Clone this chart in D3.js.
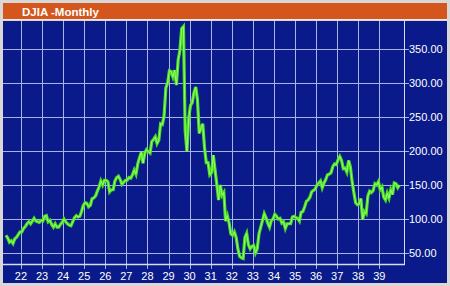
<!DOCTYPE html>
<html>
<head>
<meta charset="utf-8">
<script src="https://cdn.jsdelivr.net/npm/d3@7"></script>
<style>
  html, body { margin: 0; padding: 0; background: #d8d8d8; }
  svg { display: block; font-family: "Liberation Sans", Arial, sans-serif; }
</style>
</head>
<body>
<div id="chart"></div>
<script>
// DJIA monthly values, Apr 1921 .. Dec 1939
var title = 'DJIA -Monthly';
var startYear = 1921, startMonth = 4;
var values = [
  76, 72, 66, 68, 64, 71, 73, 77, 81,                       // 1921 (Apr-Dec)
  81, 86, 89, 93, 96, 93, 97, 101, 97, 96, 95, 98,          // 1922
  97, 104, 105, 96, 98, 92, 88, 93, 88, 88, 92, 95,         // 1923
  100, 96, 93, 91, 90, 96, 102, 105, 103, 104, 111, 120,    // 1924
  124, 123, 118, 120, 130, 131, 134, 141, 147, 156, 150, 157, // 1925
  157, 155, 140, 143, 143, 156, 161, 163, 158, 151, 154, 157, // 1926
  157, 161, 160, 165, 172, 166, 181, 190, 198, 182, 197, 202, // 1927
  199, 197, 214, 217, 221, 211, 216, 240, 239, 252, 293, 300, // 1928
  318, 317, 309, 319, 297, 334, 348, 380, 383, 230, 199, 248, // 1929
  267, 271, 286, 294, 275, 226, 234, 240, 205, 183, 183, 165, // 1930
  168, 194, 172, 151, 128, 150, 135, 139, 97, 105, 94, 78,  // 1931
  76, 81, 73, 56, 45, 43, 42, 73, 79, 62, 56, 60,           // 1932
  61, 50, 56, 78, 88, 98, 108, 102, 94, 88, 98, 100,        // 1933
  107, 104, 100, 101, 94, 96, 86, 93, 93, 93, 103, 104,     // 1934
  102, 101, 97, 110, 111, 118, 126, 128, 132, 140, 142, 144, // 1935
  150, 153, 156, 146, 153, 158, 165, 166, 168, 177, 181, 180, // 1936
  187, 192, 186, 174, 175, 169, 186, 177, 155, 139, 124, 121, // 1937
  122, 130, 99, 111, 108, 134, 141, 139, 142, 152, 150, 155, // 1938
  143, 147, 132, 128, 138, 131, 143, 136, 153, 152, 146, 150  // 1939
];
var xTicks = d3.range(1922, 1940);
var yTicks = [50, 100, 150, 200, 250, 300, 350];

var width = 450, height = 286;
var colors = {frame: '#d8d8d8', title: '#d4561c', bg: '#0a1a8a', grid: '#aab4e4', axis: '#d6dcf6',
              line: '#46dc22', lineHi: '#a4ff70', text: '#ffffff'};

var data = values.map(function (v, i) {
  var m = startMonth - 1 + i;
  return {t: startYear + Math.floor(m / 12) + ((m % 12) + 0.5) / 12, v: v};
});

var plot = {left: 3, right: 404, top: 21, bottom: 264};

var x = d3.scaleLinear().domain([1921.15, 1940.17]).range([plot.left, plot.right]);
var y = d3.scaleLinear().domain([50, 350]).range([253, 49]);

var svg = d3.select('#chart').append('svg')
  .attr('width', width).attr('height', height);

// outer frame + panels
svg.append('rect').attr('width', width).attr('height', height).attr('fill', colors.frame);
svg.append('rect').attr('x', 3).attr('y', 21).attr('width', 444).attr('height', 262).attr('fill', colors.bg);
svg.append('rect').attr('x', 3).attr('y', 3).attr('width', 444).attr('height', 16).attr('fill', colors.title);
svg.append('line').attr('x1', 3).attr('x2', 447).attr('y1', 19.5).attr('y2', 19.5)
  .attr('stroke', '#f4e8e0').attr('stroke-width', 1);

svg.append('text').attr('x', 22).attr('y', 15.5)
  .attr('fill', colors.text).attr('font-size', 11.5).attr('font-weight', 'bold')
  .text(title);

// grid
svg.append('g').selectAll('line').data(xTicks).enter().append('line')
  .attr('x1', function (d) { return Math.round(x(d)) + 0.5; })
  .attr('x2', function (d) { return Math.round(x(d)) + 0.5; })
  .attr('y1', plot.top).attr('y2', plot.bottom + 5)
  .attr('stroke', colors.grid).attr('stroke-width', 1);

svg.append('g').selectAll('line').data(yTicks).enter().append('line')
  .attr('x1', plot.left).attr('x2', plot.right + 5)
  .attr('y1', function (d) { return Math.round(y(d)) + 0.5; })
  .attr('y2', function (d) { return Math.round(y(d)) + 0.5; })
  .attr('stroke', colors.grid).attr('stroke-width', 1);

// axis borders
svg.append('line').attr('x1', plot.right + 0.5).attr('x2', plot.right + 0.5)
  .attr('y1', plot.top).attr('y2', plot.bottom + 1)
  .attr('stroke', colors.axis).attr('stroke-width', 1);
svg.append('line').attr('x1', plot.left).attr('x2', plot.right + 1)
  .attr('y1', plot.bottom + 0.5).attr('y2', plot.bottom + 0.5)
  .attr('stroke', colors.axis).attr('stroke-width', 1.5);

// tick labels
svg.append('g').selectAll('text').data(xTicks).enter().append('text')
  .attr('x', function (d) { return x(d); })
  .attr('y', 280)
  .attr('text-anchor', 'middle')
  .attr('fill', colors.text).attr('font-size', 11)
  .text(function (d) { return String(d).slice(2); });

svg.append('g').selectAll('text').data(yTicks).enter().append('text')
  .attr('x', plot.right + 5)
  .attr('y', function (d) { return y(d) + 4; })
  .attr('fill', colors.text).attr('font-size', 11)
  .text(function (d) { return d3.format('.2f')(d); });

// series
var line = d3.line()
  .x(function (d) { return x(d.t); })
  .y(function (d) { return y(d.v); });

svg.append('path').datum(data)
  .attr('d', line)
  .attr('fill', 'none')
  .attr('stroke', colors.line)
  .attr('stroke-width', 3.2);

svg.append('path').datum(data)
  .attr('d', line)
  .attr('fill', 'none')
  .attr('stroke', colors.lineHi)
  .attr('stroke-width', 0.9);
</script>
</body>
</html>
